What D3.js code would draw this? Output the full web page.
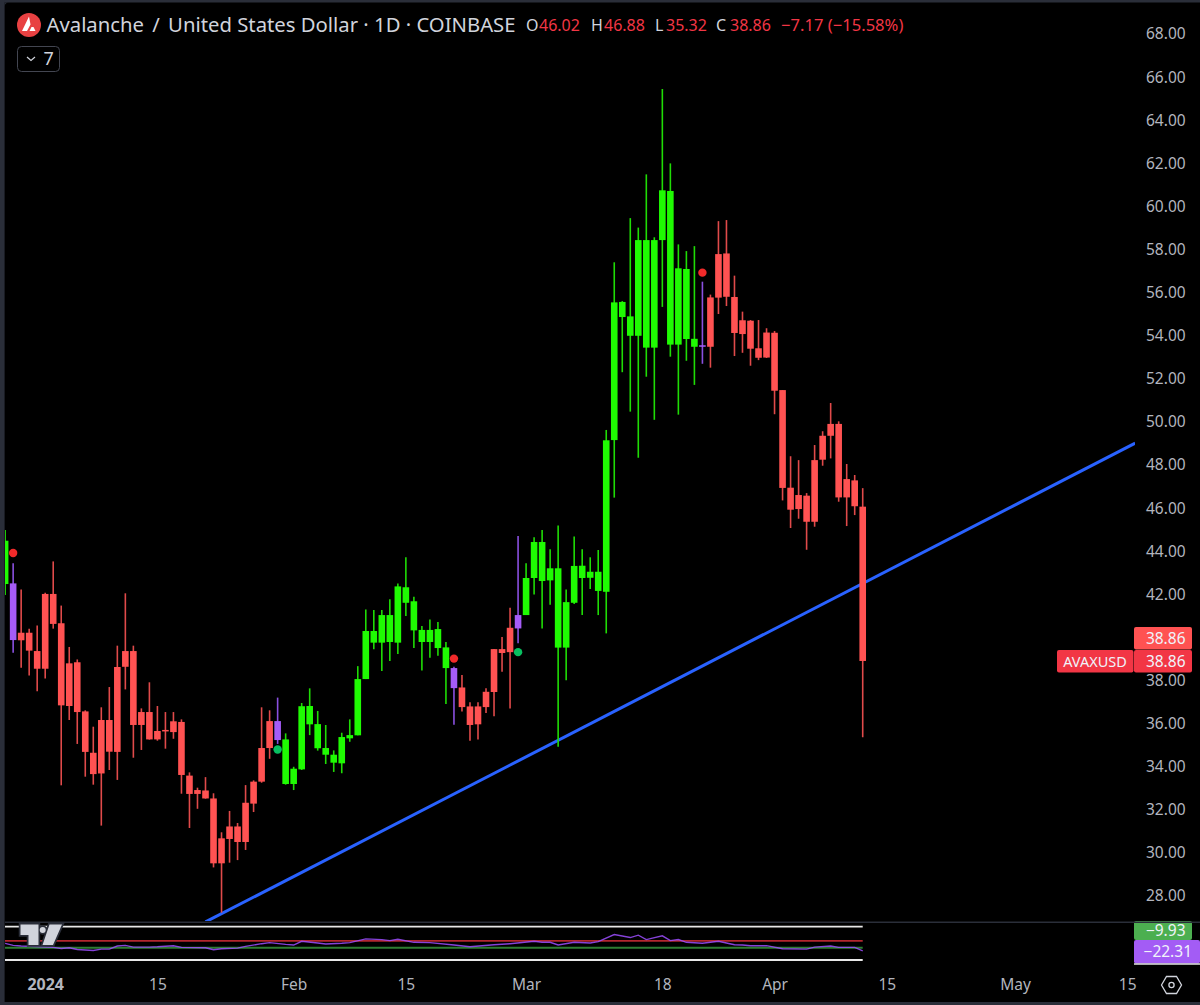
<!DOCTYPE html>
<html>
<head>
<meta charset="utf-8">
<title>AVAXUSD</title>
<script src="https://cdn.jsdelivr.net/npm/d3@7"></script>
<style>
	html, body { margin: 0; padding: 0; background: #000; }
	svg { display: block; }
	text { font-family: "Noto Sans", sans-serif; }
</style>
</head>
<body>
<svg id="chart" width="1200" height="1005"></svg>
<script>
// Days counted from 1 Jan 2024
var candleDays = [-5,-4,-3,-2,-1,0,1,2,3,4,5,6,7,8,9,10,11,12,13,14,15,16,17,18,19,20,21,22,23,24,25,26,27,28,29,
	30,31,32,33,34,35,36,37,38,39,40,41,42,43,44,45,46,47,48,49,50,51,52,53,54,55,56,57,58,59,
	60,61,62,63,64,65,66,67,68,69,70,71,72,73,74,75,76,77,78,79,80,81,82,83,84,85,86,87,88,89,90,91,92,93,94,95,96,97,98,99,100,101,102];

var opens = [42.43,42.46,40.17,40.17,39.32,41.97,41.97,40.61,38.75,38.80,36.52,34.60,36.12,36.12,38.58,39.32,39.32,36.49,36.49,35.61,35.66,36.06,36.03,33.54,32.87,32.85,32.48,30.63,31.18,31.18,32.28,33.26,34.82,36.07,36.07,
	33.15,33.15,33.83,35.92,34.81,34.51,34.14,34.11,35.27,35.41,38.02,39.71,39.71,39.74,39.71,41.56,40.28,39.74,39.74,39.46,38.53,38.53,37.63,36.75,36.75,37.43,39.41,39.41,40.40,40.99,
	40.99,42.71,42.57,42.60,39.48,39.48,41.56,42.71,42.72,42.11,42.07,49.11,54.82,53.95,53.95,53.40,53.40,58.39,53.54,53.54,53.80,53.44,53.51,55.73,57.74,57.77,55.75,54.67,54.65,53.37,54.10,54.09,51.43,46.90,46.56,46.53,48.18,49.31,49.86,49.86,47.30,47.24,46.02];

var highs = [44.94,43.39,42.18,40.36,40.51,42.03,43.48,41.43,39.51,38.93,36.57,35.81,36.71,37.65,39.57,42.00,39.57,36.66,37.87,36.77,36.49,36.49,36.15,33.69,32.98,33.47,32.72,30.91,31.90,31.34,33.10,33.32,36.71,36.57,37.16,
	35.50,33.95,36.91,37.59,36.54,35.89,34.71,35.53,36.15,38.62,41.25,41.22,41.22,41.72,42.46,43.67,41.84,40.48,40.78,40.67,39.74,38.59,38.21,36.95,36.95,37.59,39.41,39.97,41.33,44.66,
	43.39,44.60,44.94,44.04,45.15,42.18,44.64,44.04,43.67,44.01,49.58,57.36,55.56,59.41,58.97,61.44,58.52,65.40,61.95,58.19,57.88,58.11,56.46,55.86,59.27,59.32,56.74,55.07,54.68,54.68,54.30,54.17,51.43,48.36,48.18,46.65,48.88,49.52,50.83,49.98,48.00,47.49,46.88];

var lows = [41.92,39.24,38.55,38.18,37.45,38.05,40.36,33.09,36.12,35.01,33.49,33.12,31.22,33.80,33.34,37.54,34.37,34.73,35.21,35.16,34.79,35.25,32.70,31.11,32.00,32.47,29.28,27.18,29.50,29.62,30.09,31.85,33.21,34.32,35.01,
	33.12,32.87,33.80,35.42,34.70,34.08,33.71,33.65,35.11,35.41,38.02,39.40,38.39,38.86,39.18,40.95,39.46,38.42,39.01,39.10,36.86,35.90,36.51,35.16,35.22,36.44,36.29,38.36,36.65,39.68,
	40.99,41.94,40.37,41.47,34.88,37.96,41.50,40.99,42.20,40.99,40.14,46.44,52.26,50.43,48.29,52.05,50.05,55.29,52.98,50.29,52.79,51.67,52.65,52.47,54.96,55.33,53.01,53.16,52.56,52.82,52.92,50.31,46.31,45.03,45.46,44.02,45.09,47.92,48.26,46.25,45.12,45.63,35.32];

var closes = [44.44,39.83,39.82,39.34,38.50,38.50,40.58,36.80,36.77,36.49,34.64,33.61,33.64,34.65,34.64,38.59,35.89,35.89,35.22,35.22,35.59,35.56,33.57,32.69,32.69,32.48,29.47,29.47,30.60,30.46,30.46,32.24,33.26,34.82,35.19,
	35.22,33.86,36.76,36.77,35.93,34.82,34.51,35.33,35.42,38.02,40.25,40.25,40.99,40.99,42.32,42.28,41.63,40.30,40.30,40.34,39.49,37.60,36.72,35.89,35.92,36.72,37.42,39.23,39.27,40.37,
	42.71,44.38,44.38,43.16,43.16,41.59,43.27,43.28,43.00,43.00,49.10,55.50,55.52,54.85,58.39,58.39,58.39,60.70,60.67,57.08,57.05,53.81,53.44,53.44,55.72,55.76,54.08,54.03,53.35,52.93,52.94,51.40,46.89,45.88,45.91,45.32,45.32,48.20,49.31,46.45,46.45,46.04,38.86];

// g = green, r = red, p = purple bars
var kinds = ["g","p","r","r","r","r","r","r","r","r","r","r","r","r","r","r","r","r","r","r","r","r","r","r","r","r","r","r","r","r","r","r","r","r","p",
	"g","g","g","g","g","g","g","g","g","g","g","g","g","g","g","g","g","g","g","g","g","p","r","r","r","r","r","r","r","p",
	"g","g","g","g","g","g","g","g","g","g","g","g","g","g","g","g","g","g","g","g","g","g","p","r","r","r","r","r","r","r","r","r","r","r","r","r","r","r","r","r","r","r","r"];

var signalDays = [-4, 29, 51, 59, 82];
var signalPrices = [43.87, 34.75, 38.97, 39.27, 56.88];
var signalKinds = ["sell", "buy", "sell", "buy", "sell"];

var trendDays = [20, 136];
var trendPrices = [26.75, 48.97];

var priceTicks = [68,66,64,62,60,58,56,54,52,50,48,46,44,42,38,36,34,32,30,28];
var timeTickDays = [0, 14, 31, 45, 60, 77, 91, 105, 121, 135];
var timeTickLabels = ["2024", "15", "Feb", "15", "Mar", "18", "Apr", "15", "May", "15"];

var oscDays = [-5,-4,-3,1,2,3,4,6,7,8,9,10,11,13,14,16,17,20,21,22,24,25,27,28,30,31,32,34,35,37,38,40,42,43,44,46,48,51,53,56,58,61,62,63,64,66,68,
	69,71,73,74,75,77,78,79,80,82,84,85,86,87,88,90,92,95,96,98,99,101,102];
var oscValues = [0,-6.1,-8.1,-12.2,-15.3,-13.2,-18.3,-21.4,-17.3,-17.3,-8.1,-6.1,-11.2,-11.2,-10.2,-7.1,-12.2,-13.2,-19.3,-16.3,-14.2,-9.1,-1,2.1,-3,-5,6.2,1.1,-2,0.1,2.1,13.3,11.3,8.2,12.3,3.1,2.1,-5,-10.2,-4,-1,6.2,3.1,3.1,-5,3.1,1.1,
	5.2,26.6,17.4,24.5,11.3,22.5,8.2,11.3,3.1,0.1,6.2,1.1,-4,-5,-7,-7,-16.3,-17.3,-11.2,-8.1,-12.2,-12.2,-22.31];
var oscLevels = [50, 7.2, -13.2, -50];
var oscLevelColors = ["#e8e8e8", "#b3262e", "#2e7d32", "#e8e8e8"];

var headerValues = [
	{label: "O", value: "46.02", lx: 526, vx: 539},
	{label: "H", value: "46.88", lx: 591, vx: 604},
	{label: "L", value: "35.32", lx: 655, vx: 666},
	{label: "C", value: "38.86", lx: 716, vx: 730}
];

var bodyColor = {g: "#1ffb02", r: "#ff5252", p: "#a55cf7"};
var wickColor = {g: "#1fdc05", r: "#e04a4a", p: "#8a50e0"};
var signalColor = {sell: "#f12a2a", buy: "#08bf60"};

var x = d3.scaleLinear().domain([0, 135]).range([45.2, 1127.2]);
var y = d3.scaleLinear().domain([28, 68]).range([895, 33]);
var yOsc = d3.scaleLinear().domain([-50, 50]).range([960, 926.7]);

var svg = d3.select("#chart");

svg.append("rect").attr("width", 1200).attr("height", 1005).attr("fill", "#000");

var defs = svg.append("defs");
defs.append("clipPath").attr("id", "pricePane").append("rect")
	.attr("x", 5).attr("y", 3).attr("width", 1130).attr("height", 918);
defs.append("clipPath").attr("id", "oscPane").append("rect")
	.attr("x", 5).attr("y", 924).attr("width", 1125).attr("height", 44);

var drawTrendLine = function()
{
	svg.append("line")
		.attr("clip-path", "url(#pricePane)")
		.attr("x1", x(trendDays[0])).attr("y1", y(trendPrices[0]))
		.attr("x2", x(trendDays[1])).attr("y2", y(trendPrices[1]))
		.attr("stroke", "#2962ff")
		.attr("stroke-width", 3);
};

var drawCandles = function()
{
	var g = svg.append("g").attr("clip-path", "url(#pricePane)");

	var candle = g.selectAll("g.candle")
		.data(candleDays)
		.enter().append("g").attr("class", "candle");

	candle.append("line")
		.attr("x1", function(d) { return x(d); })
		.attr("x2", function(d) { return x(d); })
		.attr("y1", function(d, i) { return y(highs[i]); })
		.attr("y2", function(d, i) { return y(lows[i]); })
		.attr("stroke", function(d, i) { return wickColor[kinds[i]]; })
		.attr("stroke-width", 1.6);

	candle.append("rect")
		.attr("x", function(d) { return x(d) - 3.3; })
		.attr("width", 6.6)
		.attr("y", function(d, i) { return y(Math.max(opens[i], closes[i])); })
		.attr("height", function(d, i) { return Math.max(1.5, Math.abs(y(opens[i]) - y(closes[i]))); })
		.attr("fill", function(d, i) { return bodyColor[kinds[i]]; });

	g.selectAll("circle.signal")
		.data(signalDays)
		.enter().append("circle")
		.attr("class", "signal")
		.attr("cx", function(d) { return x(d); })
		.attr("cy", function(d, i) { return y(signalPrices[i]); })
		.attr("r", 4.2)
		.attr("fill", function(d, i) { return signalColor[signalKinds[i]]; });
};

var drawOscillator = function()
{
	svg.append("g").selectAll("line")
		.data(oscLevels)
		.enter().append("line")
		.attr("x1", 5)
		.attr("x2", x(102))
		.attr("y1", function(d) { return yOsc(d); })
		.attr("y2", function(d) { return yOsc(d); })
		.attr("stroke", function(d, i) { return oscLevelColors[i]; })
		.attr("stroke-width", 1.8);

	var line = d3.line()
		.x(function(d) { return x(d); })
		.y(function(d, i) { return yOsc(oscValues[i]); });

	svg.append("path")
		.attr("clip-path", "url(#oscPane)")
		.attr("d", line(oscDays))
		.attr("fill", "none")
		.attr("stroke", "#9c4dff")
		.attr("stroke-opacity", 0.85)
		.attr("stroke-width", 1.4);
};

var drawLogo = function()
{
	var shape = "M20.5 924.5H38.5V945H28.5V935H20.5Z M49.5 924.5H62L53 945H42.5Z";
	var outline = svg.append("g")
		.attr("fill", "#2a2e39")
		.attr("stroke", "#2a2e39")
		.attr("stroke-width", 3.5);
	outline.append("path").attr("d", shape);
	outline.append("circle").attr("cx", 42.7).attr("cy", 930).attr("r", 3);

	var logo = svg.append("g").attr("fill", "#d1d4dc");
	logo.append("path").attr("d", shape);
	logo.append("circle").attr("cx", 42.7).attr("cy", 930).attr("r", 3);
};

var drawAxes = function()
{
	var priceAxis = d3.axisRight(y)
		.tickValues(priceTicks)
		.tickSize(0)
		.tickPadding(0)
		.tickFormat(d3.format(".2f"));

	var gPrice = svg.append("g")
		.attr("transform", "translate(1146,1)")
		.call(priceAxis);
	gPrice.select(".domain").remove();
	gPrice.selectAll("text")
		.attr("fill", "#b2b5be")
		.style("font-size", "15.5px");

	var timeAxis = d3.axisBottom(x)
		.tickValues(timeTickDays)
		.tickSize(0)
		.tickPadding(0)
		.tickFormat(function(d, i) { return timeTickLabels[i]; });

	var gTime = svg.append("g")
		.attr("transform", "translate(0,979)")
		.call(timeAxis);
	gTime.select(".domain").remove();
	gTime.selectAll("text")
		.attr("fill", "#b2b5be")
		.style("font-size", function(d) { return d === 0 ? "16px" : "15.5px"; })
		.style("font-weight", function(d) { return d === 0 ? "700" : "400"; });
};

var badge = function(bx, by, w, h, fill, label, tx, anchor, size)
{
	svg.append("rect")
		.attr("x", bx).attr("y", by).attr("width", w).attr("height", h)
		.attr("rx", 2).attr("fill", fill);
	svg.append("text")
		.attr("x", tx).attr("y", by + h / 2 + 5.5)
		.attr("text-anchor", anchor)
		.attr("fill", "#f0f3fa")
		.style("font-size", size || "15.5px")
		.text(label);
};

var drawBadges = function()
{
	badge(1134, 627, 58, 22.5, "#ff5252", "38.86", 1185.5, "end");
	badge(1057, 650, 76.5, 22.5, "#f23645", "AVAXUSD", 1095, "middle", "14.5px");
	badge(1134, 650, 58, 22.5, "#f23645", "38.86", 1185.5, "end");
	badge(1134, 921, 58, 19, "#4caf50", "\u22129.93", 1185.5, "end");
	badge(1134, 940, 66, 23.5, "#a35cf5", "\u221222.31", 1192, "end");
	svg.append("line")
		.attr("x1", 1134).attr("x2", 1200).attr("y1", 964).attr("y2", 964)
		.attr("stroke", "#e8e8e8").attr("stroke-width", 1.5);
};

var drawHeader = function()
{
	svg.append("circle").attr("cx", 29).attr("cy", 25).attr("r", 12).attr("fill", "#e84142");
	svg.append("path").attr("d", "M29 16.5L22 31H27L30.5 24.5Z M31.5 27L29.5 31H35.5L33.5 27Z").attr("fill", "#fff");

	var title = svg.append("text")
		.attr("x", 46.5).attr("y", 32)
		.attr("fill", "#d1d4dc")
		.style("font-size", "20.3px");
	title.append("tspan").text("Avalanche");
	title.append("tspan").attr("dx", 3).text(" / ");
	title.append("tspan").attr("dx", 3).text("United States Dollar \u00b7 1D \u00b7 COINBASE");

	var item = svg.append("g").selectAll("g")
		.data(headerValues)
		.enter().append("g")
		.style("font-size", "16px");
	item.append("text")
		.attr("x", function(d) { return d.lx; })
		.attr("y", 31)
		.attr("fill", "#d1d4dc")
		.text(function(d) { return d.label; });
	item.append("text")
		.attr("x", function(d) { return d.vx; })
		.attr("y", 31)
		.attr("fill", "#f23645")
		.text(function(d) { return d.value; });

	svg.append("text")
		.attr("x", 781).attr("y", 31)
		.attr("fill", "#f23645")
		.style("font-size", "16.6px")
		.text("\u22127.17 (\u221215.58%)");

	// Collapsed indicators button
	svg.append("rect")
		.attr("x", 17.5).attr("y", 46.5).attr("width", 42).attr("height", 25)
		.attr("rx", 4)
		.attr("fill", "none")
		.attr("stroke", "#434651");
	svg.append("path")
		.attr("d", "M27 57l4 3.5l4-3.5")
		.attr("fill", "none")
		.attr("stroke", "#d1d4dc")
		.attr("stroke-width", 1.2);
	svg.append("text")
		.attr("x", 43.5).attr("y", 65)
		.attr("fill", "#d1d4dc")
		.style("font-size", "18px")
		.text("7");
};

var drawFrame = function()
{
	svg.append("rect").attr("x", 0).attr("y", 0).attr("width", 1200).attr("height", 2.5).attr("fill", "#2a2e39");
	svg.append("rect").attr("x", 0).attr("y", 0).attr("width", 4.6).attr("height", 1005).attr("fill", "#2a2e39");
	svg.append("rect").attr("x", 0).attr("y", 1002).attr("width", 1200).attr("height", 3).attr("fill", "#2a2e39");
	svg.append("rect").attr("x", 5).attr("y", 921.5).attr("width", 1195).attr("height", 1.5).attr("fill", "#2a2e39");
	svg.append("path").attr("d", "M4.6 2.5H9Q4.6 2.5 4.6 7Z").attr("fill", "#2a2e39");

	// Settings hexagon
	svg.append("path")
		.attr("d", "M1161.5 985L1166.5 976.5H1176.5L1181.5 985L1176.5 993.5H1166.5Z")
		.attr("fill", "none")
		.attr("stroke", "#d1d4dc")
		.attr("stroke-width", 1.3);
	svg.append("circle")
		.attr("cx", 1171.5).attr("cy", 985).attr("r", 2.6)
		.attr("fill", "none")
		.attr("stroke", "#d1d4dc")
		.attr("stroke-width", 1.3);
};

drawTrendLine();
drawCandles();
drawOscillator();
drawLogo();
drawAxes();
drawBadges();
drawHeader();
drawFrame();
</script>
</body>
</html>
